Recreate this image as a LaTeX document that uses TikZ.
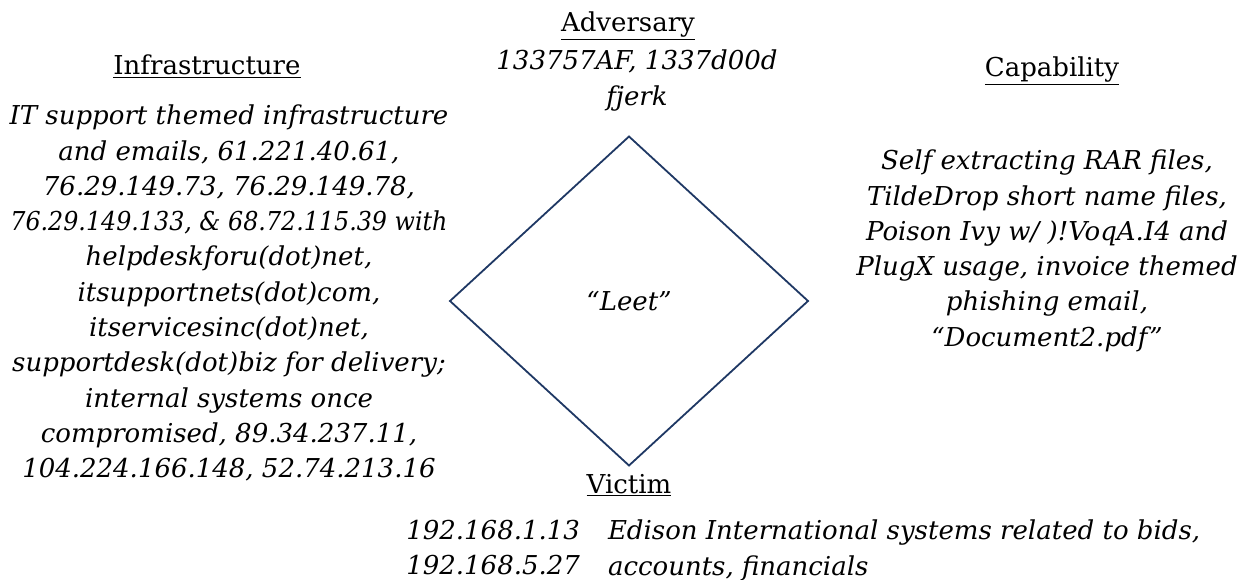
\documentclass[tikz,border=0pt]{standalone}
\usepackage{fontspec}
\usepackage{graphicx}
\setmainfont{DejaVu Serif}
\usetikzlibrary{shapes.geometric}
\definecolor{diamondblue}{HTML}{1F3864}
\begin{document}
\begin{tikzpicture}[x=1pt,y=-1pt,
  every node/.style={inner sep=0pt, outer sep=0pt},
  heading/.style={font=\fontsize{26}{35}\selectfont, anchor=base},
  body/.style={font=\fontsize{26}{35.3}\selectfont\itshape, align=center, anchor=north},
  vertex/.style={diamond, draw=diamondblue, line width=1.8pt, aspect=1.088,
    minimum width=358pt, minimum height=329pt, font=\fontsize{26}{35}\selectfont\itshape}]
\useasboundingbox (0,0) rectangle (1248,580);

% headings of the four corners
\node[heading] (advh) at (628,32) {\underline{Adversary}};
\node[heading] (infh) at (207,75) {\underline{Infrastructure}};
\node[heading] (caph) at (1052,77) {\underline{Capability}};
\node[heading] (vich) at (629,493) {\underline{Victim}};

% the diamond with the adversary name in it
\node[vertex] (leet) at (629,301) {``Leet''};

% adversary details
\node[body] (advt) at (637,50) {133757AF, 1337d00d\\fjerk};

% infrastructure details
\node[body] (inft) at (229,105) {IT support themed infrastructure\\
and emails, 61.221.40.61,\\
76.29.149.73, 76.29.149.78,\\
\scalebox{0.915}[1]{76.29.149.133, \& 68.72.115.39 with}\\
helpdeskforu(dot)net,\\
itsupportnets(dot)com,\\
itservicesinc(dot)net,\\
supportdesk(dot)biz for delivery;\\
internal systems once\\
compromised, 89.34.237.11,\\
104.224.166.148, 52.74.213.16};

% capability details
\node[body] (capt) at (1047,150) {Self extracting RAR files,\\
TildeDrop short name files,\\
Poison Ivy w/ )!VoqA.I4 and\\
PlugX usage, invoice themed\\
phishing email,\\
``Document2.pdf''};

% victim details
\node[body, align=right, anchor=north east] (vicip) at (580,520) {192.168.1.13\\192.168.5.27};
\node[body, align=left, anchor=north west] (vicsys) at (608,520) {Edison International systems related to bids,\\accounts, financials};
\end{tikzpicture}
\end{document}
